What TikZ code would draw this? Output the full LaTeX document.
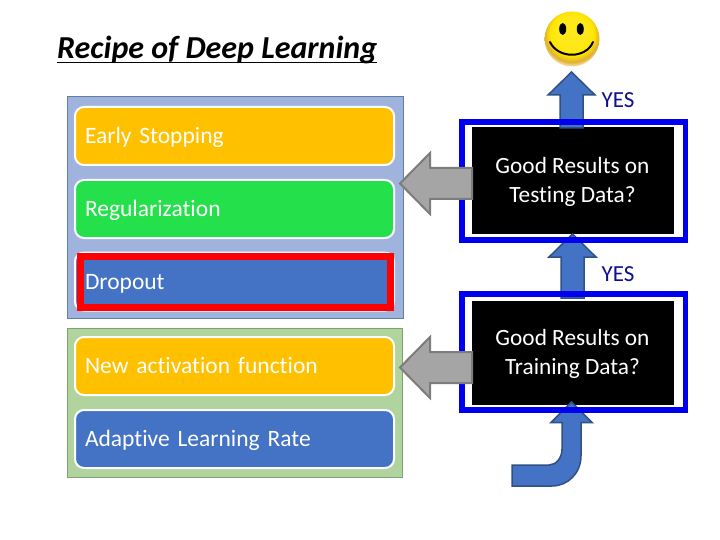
\documentclass[tikz,border=0pt]{standalone}
\usepackage{fontspec}
\setmainfont[Ligatures=NoCommon]{Carlito}
\definecolor{panelblue}{HTML}{A0B3DC}
\definecolor{panelblueline}{HTML}{5F7FA8}
\definecolor{panelgreen}{HTML}{B1D49F}
\definecolor{panelgreenline}{HTML}{7FA36F}
\definecolor{gold}{HTML}{FFC000}
\definecolor{green2}{HTML}{24E04A}
\definecolor{steel}{HTML}{4472C4}
\definecolor{steelline}{HTML}{2F5283}
\definecolor{frameblue}{HTML}{0000F0}
\definecolor{yesblue}{HTML}{10108C}
\definecolor{grayfill}{HTML}{A5A5A5}
\definecolor{grayline}{HTML}{7C7C7C}
\definecolor{smilecentre}{HTML}{FFE81A}
\definecolor{smileedge}{HTML}{E0B030}
\tikzset{
  panel/.style={draw=#1,line width=1pt},
  pill/.style={rounded corners=9pt,draw=white,line width=2pt,minimum width=319pt,minimum height=58pt,anchor=north west,text=white,font=\fontsize{23.5}{27}\selectfont,align=left,inner sep=0pt,text width=299pt,text height=19pt,text depth=4pt},
  question/.style={fill=black,anchor=north west,inner sep=0pt,minimum width=202pt},
  questiontext/.style={text=white,align=center,inner sep=0pt,font=\fontsize{23.3}{29}\selectfont},
  frame/.style={draw=frameblue,line width=5.5pt},
  grayarrow/.style={fill=grayfill,draw=grayline,line width=2pt,line join=miter},
  bluearrow/.style={fill=steel,draw=steelline,line width=1.5pt,line join=miter},
  yes/.style={text=yesblue,font=\fontsize{23}{27}\selectfont,inner sep=0pt}
}
\pgfdeclareradialshading{smileball}{\pgfpoint{0bp}{8bp}}{
  color(0bp)=(smilecentre); color(14bp)=(smilecentre); color(20bp)=(yellow!80!orange); color(25bp)=(smileedge); color(28bp)=(white!60!smileedge); color(50bp)=(white)}
\begin{document}
\begin{tikzpicture}[x=1pt,y=-1pt]
\useasboundingbox (0,0) rectangle (720,540);
\fill[white] (0,0) rectangle (720,540);
% title
\node[anchor=base west,inner sep=0pt,font=\fontsize{32}{34}\selectfont\bfseries\itshape] (title) at (57,59) {Recipe of Deep Learning};
\draw[line width=1.8pt] ([yshift=-3.5pt]title.base west) -- ([yshift=-3.5pt]title.base east);
% panels
\fill[panelblue,panel=panelblueline] (67,97) rectangle (403,318);
\fill[panelgreen,panel=panelgreenline] (67,328) rectangle (402,477);
\node[pill,fill=gold] (es) at (74,106) {Early Stopping};
\node[pill,fill=green2] (reg) at (74,179) {Regularization};
\node[pill,fill=steel] (drop) at (74,251.5) {Dropout};
\draw[draw=red,line width=6.5pt] (80.5,256.5) rectangle (390.5,307.5);
\node[pill,fill=gold] (act) at (74,336) {New activation function};
\node[pill,fill=steel] (ada) at (74,409) {Adaptive Learning Rate};
% black boxes
\node[question,minimum height=107pt] (q1) at (471.5,127) {};
\node[question,minimum height=104pt] (q2) at (471.5,301) {};
% blue block arrows lie between the black boxes and the frames
\draw[bluearrow] (560,128) -- (560,95) -- (548,95) -- (571.5,72) -- (595,95) -- (583,95) -- (583,128) -- cycle;
\draw[bluearrow] (561,298) -- (561,257) -- (549,257) -- (572.5,234) -- (596,257) -- (584,257) -- (584,298) -- cycle;
\draw[bluearrow] (512,465) -- (549,465) .. controls (556,465) and (562,458) .. (562,449) -- (562,422.5) -- (551,422.5) -- (571.5,402) -- (592,422.5) -- (581,422.5) -- (581,456) .. controls (581,473) and (568,486) .. (552,486) -- (512,486) -- cycle;
% question texts
\node[questiontext] (q1text) at (572.5,182) {Good Results on\\Testing Data?};
\node[questiontext] (q2text) at (572.5,354) {Good Results on\\Training Data?};
% frames
\draw[frame] (462,122) rectangle (685.5,240);
\draw[frame] (462,294) rectangle (685.5,410);
% grey block arrows
\draw[grayarrow] (472,168) -- (430,168) -- (430,153) -- (400,183.5) -- (430,214) -- (430,199) -- (472,199) -- cycle;
\draw[grayarrow] (472,352) -- (430,352) -- (430,337) -- (400,367.5) -- (430,398) -- (430,383) -- (472,383) -- cycle;
% yes labels
\node[yes,anchor=base] (y1) at (618,108) {YES};
\node[yes,anchor=base] (y2) at (618,281) {YES};
% smiley
\shade[shading=smileball] (572,39) circle (27.5);
\fill[black] (562.7,29) ellipse (3.5 and 6);
\fill[black] (580.3,29) ellipse (3.5 and 6);
\draw[black,line width=2pt,line cap=round] (550,42) .. controls (558,59) and (586,59) .. (593,42);
\end{tikzpicture}
\end{document}
